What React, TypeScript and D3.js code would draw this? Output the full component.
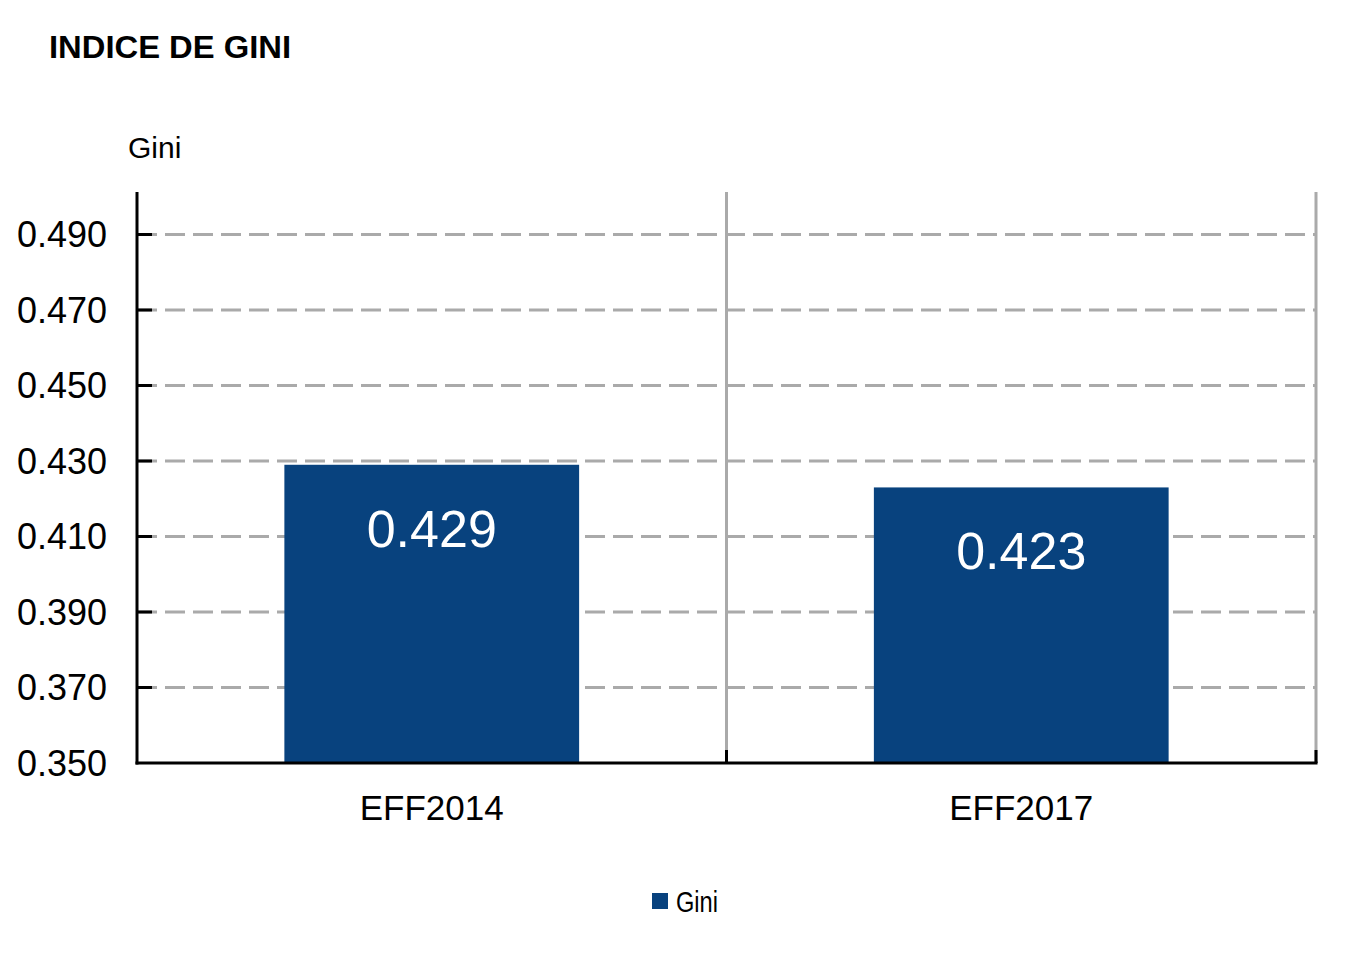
import React from "react";
import * as d3 from "d3";

const categories = ["EFF2014", "EFF2017"];
const giniValues = [0.429, 0.423];
const valueLabels = ["0.429", "0.423"];
const yTicks = [0.35, 0.37, 0.39, 0.41, 0.43, 0.45, 0.47, 0.49];
const title = "INDICE DE GINI";
const yAxisTitle = "Gini";
const legendLabel = "Gini";

const W = 1348;
const H = 965;
const left = 137;
const right = 1316;
const top = 192;
const bottom = 763;
const barColor = "#08427e";
const gridColor = "#aaaaaa";
const font = "'Liberation Sans', Arial, Helvetica, sans-serif";

export default function App() {
  const y = d3.scaleLinear().domain([0.35, 0.49]).range([bottom, 234.5]);
  const x = d3.scaleBand<string>().domain(categories).range([left, right]).paddingInner(0).paddingOuter(0);
  const bw = x.bandwidth();
  const barW = bw * 0.5;
  const boundaries = categories.map((c) => (x(c) as number) + bw);

  return (
    <svg width={W} height={H} style={{ position: "absolute", left: 0, top: 0, background: "#fff" }}>
      <text x={49} y={58} fontFamily={font} fontWeight="bold" fontSize={31} fill="#000" textLength={242} lengthAdjust="spacingAndGlyphs">
        {title}
      </text>
      <text x={128} y={158} fontFamily={font} fontSize={30} fill="#000">
        {yAxisTitle}
      </text>

      {/* horizontal gridlines */}
      {yTicks.filter((t) => t > 0.35).map((t) => (
        <line key={"g" + t} x1={left} x2={right} y1={y(t)} y2={y(t)} stroke={gridColor} strokeWidth={3} strokeDasharray="20 8" />
      ))}
      {/* vertical category separators */}
      {boundaries.map((b, i) => (
        <line key={"v" + i} x1={b} x2={b} y1={top} y2={bottom} stroke={gridColor} strokeWidth={3} />
      ))}

      {/* bars */}
      {categories.map((c, i) => {
        const cx = (x(c) as number) + bw / 2;
        const yt = y(giniValues[i]);
        return (
          <g key={c}>
            <rect x={cx - barW / 2} y={yt} width={barW} height={bottom - yt} fill={barColor} />
            <text x={cx} y={yt + 82} textAnchor="middle" fontFamily={font} fontSize={52} fill="#fff">
              {valueLabels[i]}
            </text>
            <text x={cx} y={820} textAnchor="middle" fontFamily={font} fontSize={35} fill="#000">
              {c}
            </text>
          </g>
        );
      })}

      {/* axes */}
      <line x1={left} x2={left} y1={top} y2={bottom + 1.5} stroke="#000" strokeWidth={3} />
      <line x1={left - 1.5} x2={boundaries[1] + 1.5} y1={bottom} y2={bottom} stroke="#000" strokeWidth={3} />
      {yTicks.filter((t) => t > 0.35).map((t) => (
        <line key={"t" + t} x1={left} x2={left + 15} y1={y(t)} y2={y(t)} stroke="#000" strokeWidth={3} />
      ))}
      {boundaries.map((b, i) => (
        <line key={"bt" + i} x1={b} x2={b} y1={bottom - 13} y2={bottom} stroke="#000" strokeWidth={3} />
      ))}
      {yTicks.map((t) => (
        <text key={"l" + t} x={107} y={y(t) + 12.5} textAnchor="end" fontFamily={font} fontSize={36} fill="#000">
          {t.toFixed(3)}
        </text>
      ))}

      {/* legend */}
      <rect x={652} y={893} width={16} height={16} fill={barColor} />
      <text x={676} y={912} fontFamily={font} fontSize={29} fill="#000" textLength={42} lengthAdjust="spacingAndGlyphs">
        {legendLabel}
      </text>
    </svg>
  );
}
